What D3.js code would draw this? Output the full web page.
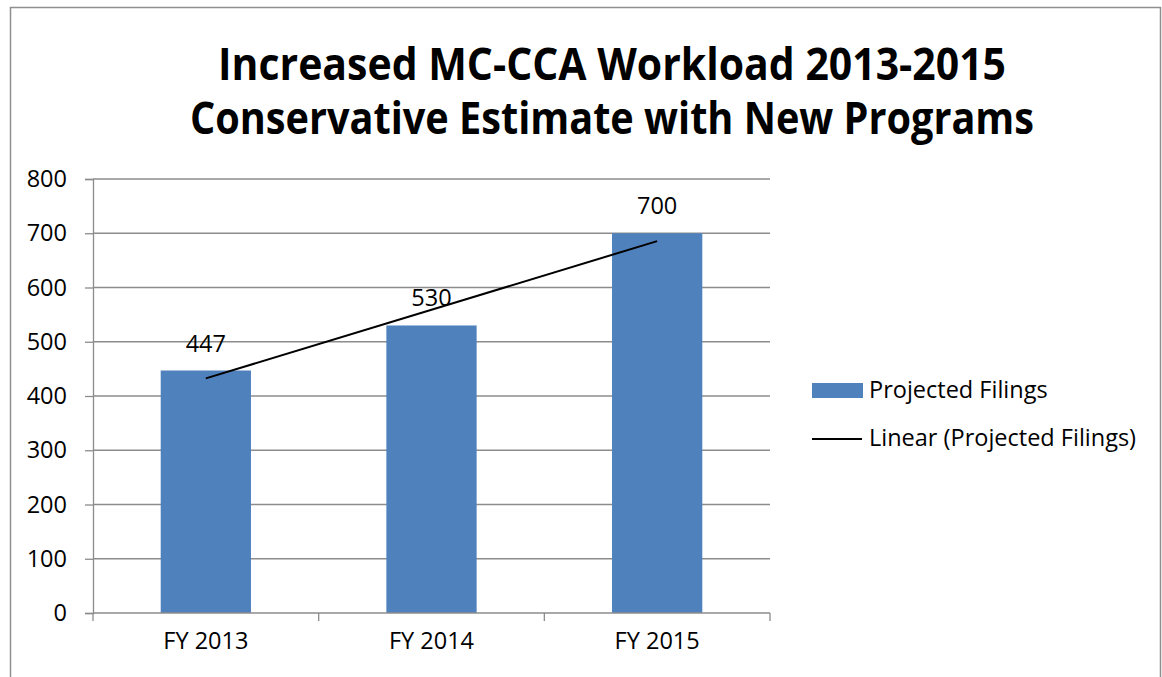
<!DOCTYPE html>
<html>
<head>
<meta charset="utf-8">
<script src="https://cdn.jsdelivr.net/npm/d3@7"></script>
<style>
  body { margin: 0; background: #fff; }
  svg { display: block; }
  text { font-family: "Open Sans", "Noto Sans", sans-serif; fill: #000; }
</style>
</head>
<body>
<div id="chart"></div>
<script>
// chart data
const categories = ["FY 2013", "FY 2014", "FY 2015"];
const filings = [447, 530, 700];
const yTicks = [0, 100, 200, 300, 400, 500, 600, 700, 800];
const titleLines = ["Increased MC-CCA Workload 2013-2015", "Conservative Estimate with New Programs"];
const legendLabels = ["Projected Filings", "Linear (Projected Filings)"];

const W = 1162, H = 677;
const plot = {left: 93, right: 770, top: 179, bottom: 613};
const barColor = "#4F81BD";
const gridColor = "#8c8c8c";
const fontSize = 23.5;

const svg = d3.select("#chart").append("svg")
    .attr("width", W)
    .attr("height", H);

// outer chart frame (bottom is cut off in the picture)
svg.append("rect")
    .attr("x", 10.5).attr("y", 7.5)
    .attr("width", 1150).attr("height", 700)
    .attr("fill", "none")
    .attr("stroke", "#8f8f8f")
    .attr("stroke-width", 1.5);

// title: tall bold glyphs squeezed to the line widths seen in the picture
const titleWidths = [788, 844];
titleLines.forEach((line, i) => {
    svg.append("text")
        .text(line)
        .attr("x", 612)
        .attr("y", 80 + i * 54)
        .attr("text-anchor", "middle")
        .attr("font-weight", "bold")
        .attr("font-size", 44)
        .attr("textLength", titleWidths[i])
        .attr("lengthAdjust", "spacingAndGlyphs");
});

const x = d3.scaleBand()
    .domain(categories)
    .range([plot.left, plot.right])
    .paddingInner(0.6)
    .paddingOuter(0.3);

const y = d3.scaleLinear()
    .domain([0, 800])
    .range([plot.bottom, plot.top]);

// horizontal gridlines
svg.append("g")
    .selectAll("line")
    .data(yTicks.filter(d => d > 0))
    .enter()
    .append("line")
        .attr("x1", plot.left).attr("x2", plot.right)
        .attr("y1", d => y(d)).attr("y2", d => y(d))
        .attr("stroke", gridColor)
        .attr("stroke-width", 1.3);

// y axis
const yAxis = svg.append("g")
    .attr("transform", `translate(${plot.left},0)`)
    .call(d3.axisLeft(y).tickValues(yTicks).tickSize(8).tickPadding(18));
yAxis.select(".domain").attr("stroke", gridColor).attr("stroke-width", 1.3);
yAxis.selectAll(".tick line").attr("stroke", gridColor).attr("stroke-width", 1.3);
yAxis.selectAll(".tick text")
    .attr("font-size", fontSize)
    .attr("font-family", "'Open Sans', sans-serif")
    .attr("fill", "#000");

// bars
svg.append("g")
    .selectAll("rect")
    .data(filings)
    .enter()
    .append("rect")
        .attr("x", (d, i) => x(categories[i]))
        .attr("y", d => y(d))
        .attr("width", x.bandwidth())
        .attr("height", d => y(0) - y(d))
        .attr("fill", barColor);

// x axis: baseline, ticks between categories, labels
const xAxis = svg.append("g")
    .attr("transform", `translate(0,${plot.bottom})`)
    .call(d3.axisBottom(x).tickSize(0).tickPadding(19));
xAxis.select(".domain").remove();
xAxis.selectAll(".tick text")
    .attr("font-size", fontSize)
    .attr("font-family", "'Open Sans', sans-serif")
    .attr("fill", "#000");

svg.append("line")
    .attr("x1", plot.left).attr("x2", plot.right)
    .attr("y1", plot.bottom).attr("y2", plot.bottom)
    .attr("stroke", gridColor).attr("stroke-width", 1.3);

const boundaries = d3.range(categories.length + 1).map(i => plot.left + i * x.step());
svg.append("g")
    .selectAll("line")
    .data(boundaries)
    .enter()
    .append("line")
        .attr("x1", d => d).attr("x2", d => d)
        .attr("y1", plot.bottom).attr("y2", plot.bottom + 8)
        .attr("stroke", gridColor).attr("stroke-width", 1.3);

// linear trendline (least squares on the bar values)
const xs = filings.map((d, i) => i + 1);
const mx = d3.mean(xs), my = d3.mean(filings);
const slope = d3.sum(xs, (v, i) => (v - mx) * (filings[i] - my)) / d3.sum(xs, v => (v - mx) ** 2);
const icpt = my - slope * mx;
const trend = categories.map((c, i) => ({cat: c, v: icpt + slope * xs[i]}));
const trendEnds = [trend[0], trend[trend.length - 1]];

const line = d3.line()
    .x(d => x(d.cat) + x.bandwidth() / 2)
    .y(d => y(d.v));

svg.append("path")
    .attr("d", line(trendEnds))
    .attr("fill", "none")
    .attr("stroke", "#000")
    .attr("stroke-width", 2);

// data labels
svg.append("g")
    .selectAll("text")
    .data(filings)
    .enter()
    .append("text")
        .text(d => d)
        .attr("x", (d, i) => x(categories[i]) + x.bandwidth() / 2)
        .attr("y", d => y(d) - 19)
        .attr("text-anchor", "middle")
        .attr("font-size", fontSize);

// legend
const legend = svg.append("g").attr("transform", "translate(812,0)");
legend.append("rect")
    .attr("x", 0).attr("y", 383)
    .attr("width", 51).attr("height", 15)
    .attr("fill", barColor);
legend.append("line")
    .attr("x1", 0).attr("x2", 50)
    .attr("y1", 439).attr("y2", 439)
    .attr("stroke", "#000").attr("stroke-width", 2);
legend.selectAll("text.lab")
    .data(legendLabels)
    .enter()
    .append("text")
        .attr("class", "lab")
        .text(d => d)
        .attr("x", 57)
        .attr("y", (d, i) => 398 + i * 48)
        .attr("font-size", fontSize);
</script>
</body>
</html>
